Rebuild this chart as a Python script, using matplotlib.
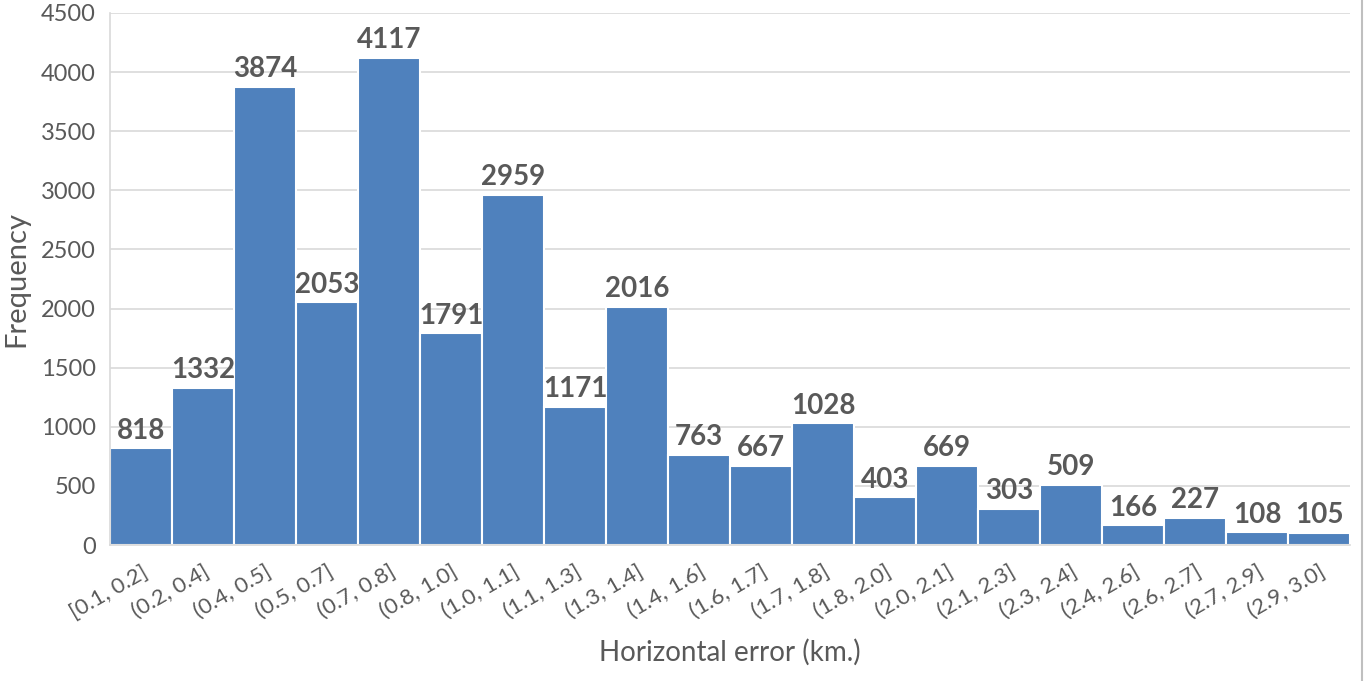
import matplotlib.pyplot as plt
import numpy as np

plt.rcParams['font.family'] = ['Lato', 'DejaVu Sans']

bins = ['[0.1, 0.2]', '(0.2, 0.4]', '(0.4, 0.5]', '(0.5, 0.7]', '(0.7, 0.8]',
        '(0.8, 1.0]', '(1.0, 1.1]', '(1.1, 1.3]', '(1.3, 1.4]', '(1.4, 1.6]',
        '(1.6, 1.7]', '(1.7, 1.8]', '(1.8, 2.0]', '(2.0, 2.1]', '(2.1, 2.3]',
        '(2.3, 2.4]', '(2.4, 2.6]', '(2.6, 2.7]', '(2.7, 2.9]', '(2.9, 3.0]']
counts = [818, 1332, 3874, 2053, 4117, 1791, 2959, 1171, 2016, 763,
          667, 1028, 403, 669, 303, 509, 166, 227, 108, 105]

TEXT = '#595959'
BAR = '#4F81BD'
GRID = '#D9D9D9'

fig = plt.figure(figsize=(13.64, 6.81), dpi=100)
ax = fig.add_axes([0.0806, 0.1997, 0.9091, 0.7813])

x = np.arange(len(bins))
ax.bar(x, counts, width=1.0, color=BAR, edgecolor='white', linewidth=1.5, zorder=2)

for xi, c in zip(x, counts):
    ax.text(xi, c + 40, str(c), ha='center', va='bottom', fontsize=20,
            fontweight='bold', color=TEXT, zorder=3)

ax.set_xlim(-0.5, len(bins) - 0.5)
ax.set_ylim(0, 4500)
ax.set_yticks(np.arange(0, 4501, 500))
ax.yaxis.grid(True, color=GRID, linewidth=1.2, zorder=0)
ax.set_axisbelow(True)

ax.set_xticks(x)
ax.set_xticklabels(bins, rotation=30, ha='right', rotation_mode='anchor')
ax.tick_params(axis='x', length=0, labelsize=16, labelcolor=TEXT, pad=12)
ax.tick_params(axis='y', length=0, labelsize=17, labelcolor=TEXT, pad=10)

for s in ['top', 'right']:
    ax.spines[s].set_visible(False)
for s in ['left', 'bottom']:
    ax.spines[s].set_color(GRID)
    ax.spines[s].set_linewidth(1.2)

ax.set_ylabel('Frequency', fontsize=21, color=TEXT, labelpad=8)
ax.set_xlabel('Horizontal error (km.)', fontsize=20, color=TEXT, labelpad=12)

# thin frame line at the right edge of the image
fig.add_artist(plt.Line2D([0.9985, 0.9985], [0, 1], color='#BFBFBF', lw=1.5))

plt.savefig('out.png', dpi=100)
plt.close()
